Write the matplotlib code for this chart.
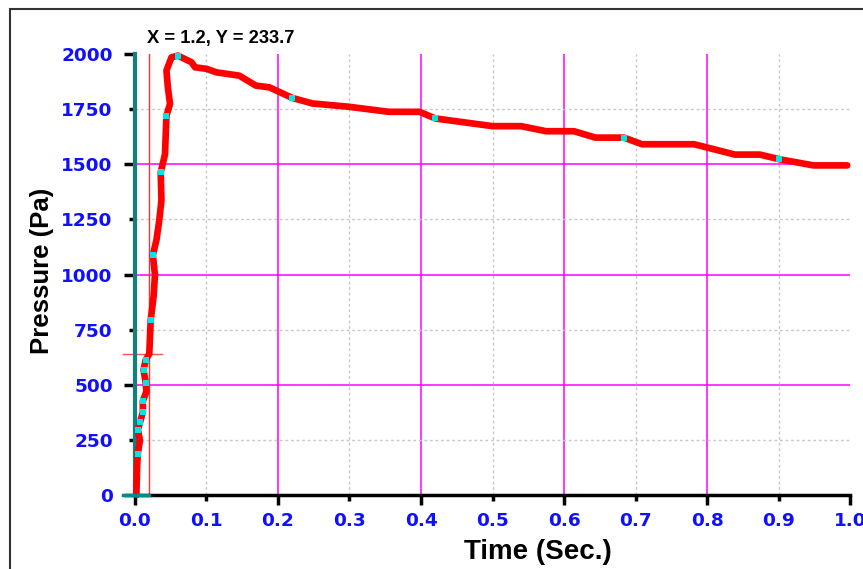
import matplotlib
matplotlib.use("Agg")
import matplotlib.pyplot as plt
from matplotlib.ticker import FixedLocator, FormatStrFormatter
from matplotlib.patches import Rectangle

# pressure trace
time_s = [0.002, 0.002, 0.003, 0.004, 0.007, 0.004, 0.007, 0.011, 0.011, 0.016,
          0.015, 0.012, 0.015, 0.020, 0.022, 0.026, 0.028, 0.025, 0.030, 0.034,
          0.037, 0.036, 0.042, 0.044, 0.049, 0.046, 0.044, 0.051, 0.060, 0.079,
          0.084, 0.100, 0.114, 0.146, 0.169, 0.188, 0.220, 0.248, 0.299, 0.355,
          0.398, 0.420, 0.500, 0.540, 0.575, 0.614, 0.644, 0.684, 0.709, 0.782,
          0.839, 0.874, 0.901, 0.949, 0.996]
pressure_pa = [0, 10, 130, 188, 248, 296, 329, 375, 426, 470,
               508, 568, 613, 640, 794, 900, 998, 1088, 1156, 1247,
               1337, 1463, 1546, 1720, 1774, 1849, 1925, 1985, 1993, 1963,
               1940, 1933, 1917, 1902, 1857, 1849, 1801, 1776, 1761, 1738,
               1738, 1708, 1673, 1673, 1650, 1650, 1621, 1621, 1591, 1591,
               1544, 1544, 1523, 1495, 1495]
# indices of the points shown with cyan markers
marker_idx = [3, 5, 6, 7, 8, 10, 11, 12, 14, 17, 21, 23, 28, 36, 41, 47, 52]

cursor_x = 0.020
cursor_y = 640
readout = "X = 1.2, Y = 233.7"

x_major = [0.0, 0.2, 0.4, 0.6, 0.8, 1.0]
x_minor = [0.1, 0.3, 0.5, 0.7, 0.9]
y_major = [0, 500, 1000, 1500, 2000]
y_minor = [250, 750, 1250, 1750]

fig = plt.figure(figsize=(8.63, 5.69), dpi=100)
ax = fig.add_axes([0.1564, 0.130, 0.8286, 0.775])

# outer frame of the screenshot
fig.patches.append(Rectangle((10/863, -0.1), 1.2, 1 - 9/569 + 0.1,
                             transform=fig.transFigure, fill=False,
                             edgecolor="#333333", linewidth=1.5))

# grid
for x in x_major[1:-1]:
    ax.axvline(x, color="#FF00FF", lw=1.1, zorder=1)
for y in y_major[1:-1]:
    ax.axhline(y, color="#FF00FF", lw=1.1, zorder=1)
for x in x_minor:
    ax.axvline(x, color="#C8C8C8", lw=1, ls=(0, (2, 2)), zorder=1)
for y in y_minor:
    ax.axhline(y, color="#C8C8C8", lw=1, ls=(0, (2, 2)), zorder=1)

# cursor
ax.plot([cursor_x, cursor_x], [0, 2000], color="#FF3030", lw=1, zorder=2)
ax.plot([-0.017, 0.038], [cursor_y, cursor_y], color="#FF5050", lw=1,
        zorder=2, clip_on=False)
ax.plot([-0.017, cursor_x], [0, 0], color="#008B8B", lw=2.5, zorder=5,
        clip_on=False)

ax.plot(time_s, pressure_pa, color="#FF0000", lw=4.8, solid_joinstyle="round",
        solid_capstyle="round", zorder=3, clip_on=False)
ax.plot([time_s[i] for i in marker_idx], [pressure_pa[i] for i in marker_idx],
        "s", color="#00E5E5", ms=4, mew=0, zorder=4, clip_on=False)

ax.set_xlim(0, 1.0)
ax.set_ylim(0, 2000)

for s in ["top", "right"]:
    ax.spines[s].set_visible(False)
ax.spines["bottom"].set_color("black")
ax.spines["bottom"].set_linewidth(2.5)
ax.spines["left"].set_color("#138080")
ax.spines["left"].set_linewidth(3)

ax.xaxis.set_major_locator(FixedLocator(x_major))
ax.xaxis.set_minor_locator(FixedLocator(x_minor))
ax.yaxis.set_major_locator(FixedLocator(y_major))
ax.yaxis.set_minor_locator(FixedLocator(y_minor))
ax.xaxis.set_major_formatter(FormatStrFormatter("%.1f"))
ax.xaxis.set_minor_formatter(FormatStrFormatter("%.1f"))
ax.yaxis.set_major_formatter(FormatStrFormatter("%d"))
ax.yaxis.set_minor_formatter(FormatStrFormatter("%d"))

tick_font = dict(family="DejaVu Sans", weight="bold", size=13.3)
ax.tick_params(which="both", colors="black", labelcolor="#1010FF", width=2.5)
ax.tick_params(axis="x", which="major", length=7, pad=5)
ax.tick_params(axis="x", which="minor", length=4, pad=8)
ax.tick_params(axis="y", which="major", length=8, pad=8)
ax.tick_params(axis="y", which="minor", length=4, pad=12)
for lab in ax.get_xticklabels(which="both") + ax.get_yticklabels(which="both"):
    lab.set_fontproperties(tick_font)

ax.set_xlabel("Time (Sec.)", fontfamily="Liberation Sans", fontweight="bold",
              fontsize=20)
ax.xaxis.set_label_coords((538 - 135) / 715, -44 / 441)
ax.set_ylabel("Pressure (Pa)", fontfamily="Liberation Sans", fontweight="bold",
              fontsize=18.5)
ax.yaxis.set_label_coords(-81 / 715, (495 - 271) / 441)
fig.text(147/863, 1 - 38/569, readout, fontfamily="Liberation Sans",
         fontweight="bold", fontsize=13.2, va="center", ha="left")

fig.savefig("out.png", dpi=100)
